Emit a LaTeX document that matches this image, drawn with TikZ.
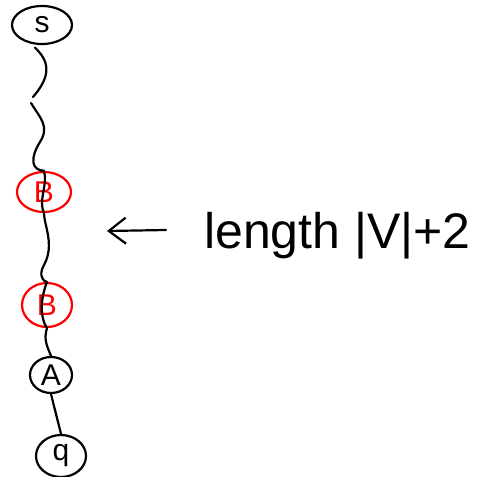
\documentclass[tikz,border=0pt]{standalone}
\usepackage{fontspec}
\setmainfont{Liberation Sans}
\usetikzlibrary{arrows.meta,shapes.geometric}
\begin{document}
\begin{tikzpicture}[x=1pt,y=-1pt,line width=2.2pt,line cap=round,line join=round,
  vert/.style={draw,ellipse,inner sep=0pt,font=\fontsize{30}{30}\selectfont},
  hot/.style={vert,red},
  pathline/.style={black}]
\useasboundingbox (0,0) rectangle (483,477);
% vertices of the path
\node[vert,minimum width=60,minimum height=38] (s) at (42,25) {s};
\node[hot,minimum width=54,minimum height=40] (b1) at (44,192) {B};
\node[hot,minimum width=50,minimum height=44] (b2) at (47,305) {B};
\node[vert,minimum width=42,minimum height=36] (a) at (51,375) {A};
\node[vert,minimum width=50,minimum height=42] (q) at (61,456) {q};
% wiggly walk from s down through both copies of B
\coordinate (w1) at (33,97);
\coordinate (w2) at (31,103);
\draw[pathline] (s.250) ++(0,3) coordinate (s0) .. controls (48,60) and (53,74) .. (w1);
\draw[pathline] (w2) .. controls (40,118) and (50,126) .. (40,142)
  .. controls (30,158) and (31,170) .. (b1.north)
  .. controls (48,185) and (38,200) .. (b1.south)
  .. controls (44,225) and (55,245) .. (44,265)
  .. controls (40,272) and (40,280) .. (b2.north)
  .. controls (40,300) and (40,318) .. (b2.south)
  .. controls (43,340) and (48,348) .. (a.north);
\draw[pathline] (a.south) -- (q.north);
% annotation
\node[font=\fontsize{50}{52}\selectfont,anchor=base west,inner sep=0pt] (lab) at (203,248) {length |V|+2};
\coordinate (tail) at (166,230);
\coordinate (tip) at (107,231);
\draw[-{Straight Barb[length=17pt,width=26pt,line width=2.2pt]}] (tail) -- (tip);
\end{tikzpicture}
\end{document}
